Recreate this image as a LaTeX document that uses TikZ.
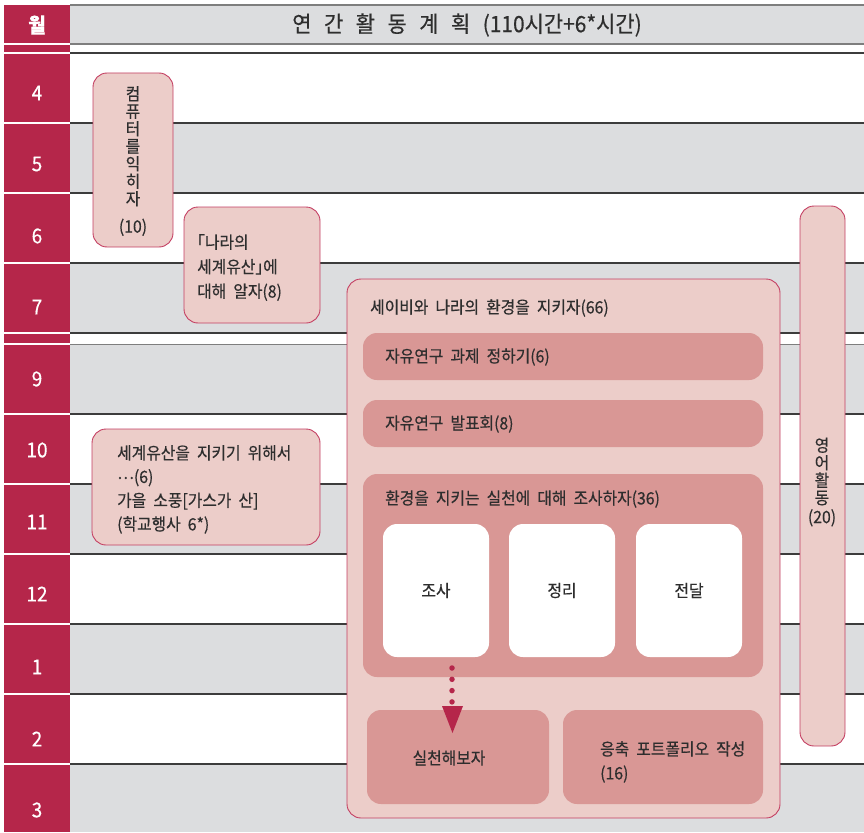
\documentclass[tikz,border=0pt]{standalone}
\usepackage{fontspec}
\setmainfont{Noto Sans CJK KR}[FakeStretch=0.93,WordSpace=2.0,FakeBold=0.4]
\usetikzlibrary{fit}
\definecolor{crim}{HTML}{B5264A}
\definecolor{rowgray}{HTML}{DCDDDF}
\definecolor{pinkl}{HTML}{ECCDC9}
\definecolor{pinkd}{HTML}{D99795}
\definecolor{pinkedge}{HTML}{C43F62}
\definecolor{txtc}{HTML}{2E2E2E}
\definecolor{rulec}{HTML}{3C3C3C}
\definecolor{hdrline}{HTML}{7E7E7E}
\newcommand\hgap{\hspace{12.5pt}}
\tikzset{
  box/.style={draw=pinkedge, line width=0.9pt, fill=pinkl, rounded corners=14pt, inner sep=0pt},
  inbox/.style={fill=pinkd, rounded corners=14pt, inner sep=0pt},
  wbox/.style={fill=white, rounded corners=14pt, inner sep=0pt},
  lbl/.style={text=txtc, font=\fontsize{17}{24}\selectfont, inner sep=0pt},
  vlbl/.style={text=txtc, font=\fontsize{17}{17.5}\selectfont, inner sep=0pt, align=center},
  mon/.style={text=white, font=\fontsize{20.5}{22}\selectfont, inner sep=0pt},
  hdr/.style={text=txtc, font=\fontsize{22.5}{24}\selectfont, inner sep=0pt},
  rowline/.style={draw=rulec, line width=1.2pt},
  sepline/.style={draw=white, line width=1.3pt},
  hline/.style={draw=hdrline, line width=1.6pt},
  dotline/.style={draw=crim, line width=5.5pt, line cap=round, dash pattern=on 0pt off 11.3pt},
}
\begin{document}
\begin{tikzpicture}[x=1pt,y=-1pt]
\useasboundingbox (0,0) rectangle (864,832);
% header bar
\fill[rowgray] (70,5) rectangle (864,44);
\draw[hline] (70,5) -- (864,5);
\draw[hline] (70,44) -- (864,44);
% row fills
\foreach \t/\b in {123/193,263/333,344/414,484/554,624/694,764/832}
  \fill[rowgray] (70,\t) rectangle (864,\b);
% row rules
\foreach \y in {53,123,193,263,333,414,484,554,624,694,764}
  \draw[rowline] (70,\y) -- (864,\y);
\draw[draw=hdrline, line width=1pt] (70,344) -- (864,344);
% month column
\fill[crim] (4,5) rectangle (70,832);
\foreach \y in {44,53,123,193,263,333,344,414,484,554,624,694,764}
  \draw[sepline] (4,\y) -- (70,\y);
\node[mon, font=\fontsize{20.5}{22}\selectfont\bfseries] (mh) at (37,25) {월};
\node[mon] (m4) at (37,93) {4};
\node[mon] (m5) at (37,164) {5};
\node[mon] (m6) at (37,236) {6};
\node[mon] (m7) at (37,307) {7};
\node[mon] (m9) at (37,379) {9};
\node[mon] (m10) at (37,450) {10};
\node[mon] (m11) at (37,522) {11};
\node[mon] (m12) at (37,594) {12};
\node[mon] (m1) at (37,667) {1};
\node[mon] (m2) at (37,739) {2};
\node[mon] (m3) at (37,810) {3};
% header title
\node[hdr] (title) at (467,25) {연\hgap 간\hgap 활\hgap 동\hgap 계\hgap 획\hgap(110시간+6*시간)};
% computer box
\node[box, fit={(93,73) (173,247)}] (comp) {};
\node[vlbl] (compt) at (133,161) {컴\\퓨\\터\\를\\익\\히\\자\\[10pt](10)};
% nara box
\node[box, fit={(184,207) (320,323)}] (nara) {};
\node[lbl, anchor=north west, align=left, font=\fontsize{17}{24.5}\selectfont] (narat) at (197,234)
  {\kern-8pt「나라의\\세계유산」\kern-8pt 에\\대해 알자(8)};
% heritage box
\node[box, fit={(92,429) (320,545)}] (herit) {};
\node[lbl, anchor=north west, align=left, font=\fontsize{17}{23.7}\selectfont] (heritt) at (117,445)
  {세계유산을 지키기 위해서\\\raisebox{4pt}{⋯}(6)\\가을 소풍[가스가 산]\\(학교행사 6*)};
% big box
\node[box, fit={(347,279) (780,818)}] (big) {};
\node[lbl, anchor=west] (bigt) at (370,308) {세이비와 나라의 환경을 지키자(66)};
\node[inbox, fit={(363,333) (763,380)}] (q1) {};
\node[lbl, anchor=west] (q1t) at (385,357) {자유연구 과제 정하기(6)};
\node[inbox, fit={(363,400) (763,447)}] (q2) {};
\node[lbl, anchor=west] (q2t) at (385,424) {자유연구 발표회(8)};
\node[inbox, fit={(363,474) (763,677)}] (q3) {};
\node[lbl, anchor=west] (q3t) at (385,499) {환경을 지키는 실천에 대해 조사하자(36)};
\node[wbox, fit={(383,524) (489,657)}] (w1) {};
\node[wbox, fit={(509,524) (615,657)}] (w2) {};
\node[wbox, fit={(636,524) (742,657)}] (w3) {};
\node[lbl] (w1t) at (w1.center) {조사};
\node[lbl] (w2t) at (w2.center) {정리};
\node[lbl] (w3t) at (w3.center) {전달};
\node[inbox, fit={(367,710) (549,804)}] (act) {};
\node[lbl] (actt) at (449,758) {실천해보자};
\node[inbox, fit={(563,710) (763,804)}] (port) {};
\node[lbl, anchor=north west, align=left] (portt) at (600,741) {응축 포트폴리오 작성\\(16)};
% dotted arrow
\coordinate (a1) at (452,668);
\coordinate (a2) at (452,702.5);
\draw[dotline] (a1) -- (a2);
\fill[crim] (442,706) -- (463,706) -- (452.5,733) -- cycle;
% english box
\node[box, fit={(800,206) (845,746)}] (eng) {};
\node[vlbl] (engt) at (822,482) {영\\어\\활\\동\\[1.5pt](20)};
\end{tikzpicture}
\end{document}
